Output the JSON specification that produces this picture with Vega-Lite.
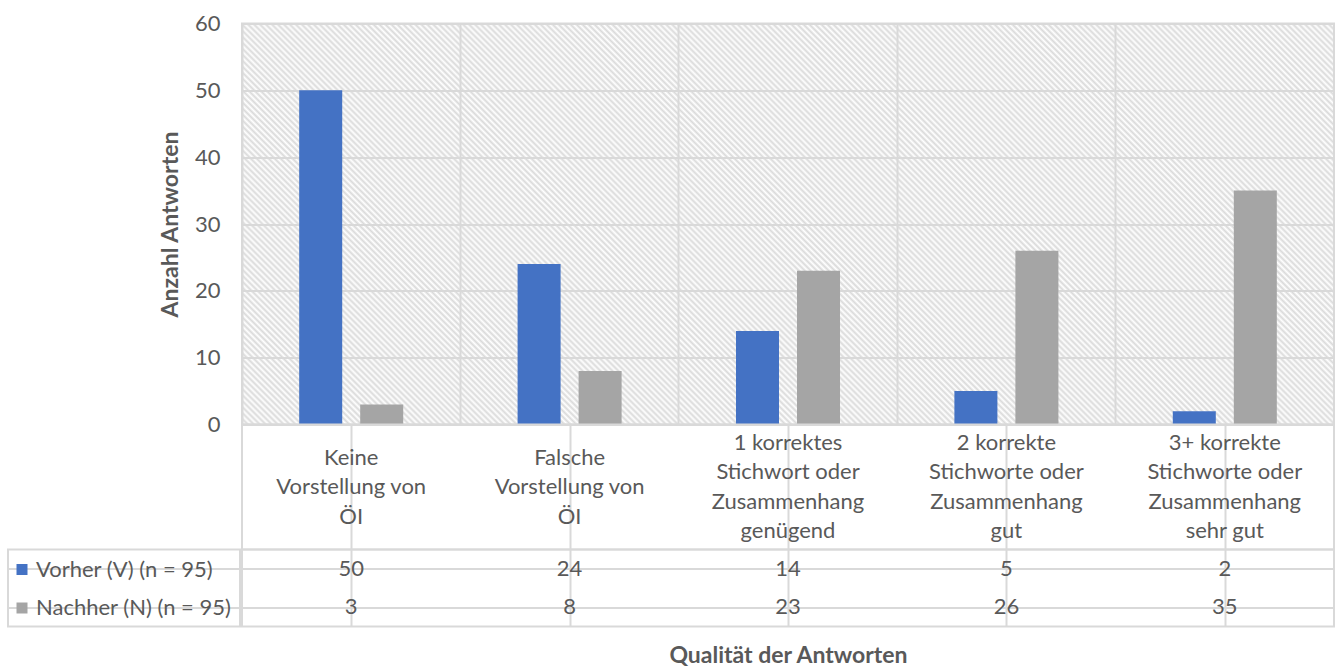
{
  "$schema": "https://vega.github.io/schema/vega-lite/v6.json",
  "background": "white",
  "padding": {"left": 7, "top": 11.5, "right": 0, "bottom": 0},
  "data": {"values": [
    {"Kategorie": "Keine\nVorstellung von\nÖI", "Zeitpunkt": "Vorher (V) (n = 95)", "Anzahl": 50},
    {"Kategorie": "Keine\nVorstellung von\nÖI", "Zeitpunkt": "Nachher (N) (n = 95)", "Anzahl": 3},
    {"Kategorie": "Falsche\nVorstellung von\nÖI", "Zeitpunkt": "Vorher (V) (n = 95)", "Anzahl": 24},
    {"Kategorie": "Falsche\nVorstellung von\nÖI", "Zeitpunkt": "Nachher (N) (n = 95)", "Anzahl": 8},
    {"Kategorie": "1 korrektes\nStichwort oder\nZusammenhang\ngenügend", "Zeitpunkt": "Vorher (V) (n = 95)", "Anzahl": 14},
    {"Kategorie": "1 korrektes\nStichwort oder\nZusammenhang\ngenügend", "Zeitpunkt": "Nachher (N) (n = 95)", "Anzahl": 23},
    {"Kategorie": "2 korrekte\nStichworte oder\nZusammenhang\ngut", "Zeitpunkt": "Vorher (V) (n = 95)", "Anzahl": 5},
    {"Kategorie": "2 korrekte\nStichworte oder\nZusammenhang\ngut", "Zeitpunkt": "Nachher (N) (n = 95)", "Anzahl": 26},
    {"Kategorie": "3+ korrekte\nStichworte oder\nZusammenhang\nsehr gut", "Zeitpunkt": "Vorher (V) (n = 95)", "Anzahl": 2},
    {"Kategorie": "3+ korrekte\nStichworte oder\nZusammenhang\nsehr gut", "Zeitpunkt": "Nachher (N) (n = 95)", "Anzahl": 35}
  ]},
  "config": {
    "font": "Lato",
    "view": {"stroke": "#d9d9d9", "strokeWidth": 2},
    "axis": {"labelFont": "Lato", "titleFont": "Lato", "labelColor": "#595959", "titleColor": "#595959", "gridColor": "#d9d9d9", "gridWidth": 2, "gridOpacity": 1, "labelFontSize": 22, "titleFontSize": 23, "titleFontWeight": "bold"},
    "text": {"font": "Lato", "fontSize": 22, "color": "#595959"}
  },
  "spacing": -83,
  "resolve": {"scale": {"color": "independent", "x": "independent", "y": "independent"}},
  "hconcat": [
    {
      "spacing": 0,
      "bounds": "flush",
      "resolve": {"scale": {"color": "independent", "y": "independent"}},
      "vconcat": [
        {"width": 232, "height": 401, "view": {"stroke": null}, "mark": {"type": "text"}, "encoding": {"text": {"value": ""}}},
        {"width": 232, "height": 125, "view": {"stroke": null}, "mark": {"type": "text"}, "encoding": {"text": {"value": ""}}},
        {
          "width": 232, "height": 77,
          "mark": {"type": "text"},
          "encoding": {
            "y": {"field": "Zeitpunkt", "type": "nominal", "sort": null, "scale": {"paddingInner": 0, "paddingOuter": 0}, "axis": {"labels": false, "ticks": false, "domain": false, "grid": true, "bandPosition": 0, "title": null}},
            "color": {"field": "Zeitpunkt", "type": "nominal", "sort": null,
              "scale": {"domain": ["Vorher (V) (n = 95)", "Nachher (N) (n = 95)"], "range": ["#4472c4", "#a5a5a5"]},
              "legend": {"orient": "none", "legendX": 3, "legendY": 9, "padding": 0, "title": null, "symbolType": "square", "symbolSize": 121, "symbolStrokeWidth": 0, "labelFont": "Lato", "labelFontSize": 22, "labelColor": "#595959", "labelOffset": 3, "labelLimit": 400, "rowPadding": 16.5}},
            "text": {"value": ""}
          }
        }
      ]
    },
    {
      "spacing": 0,
      "bounds": "flush",
      "resolve": {"scale": {"color": "independent", "y": "independent"}},
      "vconcat": [
        {
          "width": 1092, "height": 401,
          "view": {"fill": {"gradient": "linear", "x1": 0, "y1": 1, "x2": 1.2048, "y2": 0.5576, "stops": [
{"offset":0.000,"color":"#dadada"},{"offset":0.002,"color":"#fff"},{"offset":0.004,"color":"#dadada"},{"offset":0.006,"color":"#fff"},{"offset":0.008,"color":"#dadada"},{"offset":0.010,"color":"#fff"},{"offset":0.012,"color":"#dadada"},{"offset":0.014,"color":"#fff"},{"offset":0.016,"color":"#dadada"},{"offset":0.018,"color":"#fff"},
{"offset":0.020,"color":"#dadada"},{"offset":0.022,"color":"#fff"},{"offset":0.024,"color":"#dadada"},{"offset":0.026,"color":"#fff"},{"offset":0.028,"color":"#dadada"},{"offset":0.030,"color":"#fff"},{"offset":0.032,"color":"#dadada"},{"offset":0.034,"color":"#fff"},{"offset":0.036,"color":"#dadada"},{"offset":0.038,"color":"#fff"},
{"offset":0.040,"color":"#dadada"},{"offset":0.042,"color":"#fff"},{"offset":0.044,"color":"#dadada"},{"offset":0.046,"color":"#fff"},{"offset":0.048,"color":"#dadada"},{"offset":0.050,"color":"#fff"},{"offset":0.052,"color":"#dadada"},{"offset":0.054,"color":"#fff"},{"offset":0.056,"color":"#dadada"},{"offset":0.058,"color":"#fff"},
{"offset":0.060,"color":"#dadada"},{"offset":0.062,"color":"#fff"},{"offset":0.064,"color":"#dadada"},{"offset":0.066,"color":"#fff"},{"offset":0.068,"color":"#dadada"},{"offset":0.070,"color":"#fff"},{"offset":0.072,"color":"#dadada"},{"offset":0.074,"color":"#fff"},{"offset":0.076,"color":"#dadada"},{"offset":0.078,"color":"#fff"},
{"offset":0.080,"color":"#dadada"},{"offset":0.082,"color":"#fff"},{"offset":0.084,"color":"#dadada"},{"offset":0.086,"color":"#fff"},{"offset":0.088,"color":"#dadada"},{"offset":0.090,"color":"#fff"},{"offset":0.092,"color":"#dadada"},{"offset":0.094,"color":"#fff"},{"offset":0.096,"color":"#dadada"},{"offset":0.098,"color":"#fff"},
{"offset":0.100,"color":"#dadada"},{"offset":0.102,"color":"#fff"},{"offset":0.104,"color":"#dadada"},{"offset":0.106,"color":"#fff"},{"offset":0.108,"color":"#dadada"},{"offset":0.110,"color":"#fff"},{"offset":0.112,"color":"#dadada"},{"offset":0.114,"color":"#fff"},{"offset":0.116,"color":"#dadada"},{"offset":0.118,"color":"#fff"},
{"offset":0.120,"color":"#dadada"},{"offset":0.122,"color":"#fff"},{"offset":0.124,"color":"#dadada"},{"offset":0.126,"color":"#fff"},{"offset":0.128,"color":"#dadada"},{"offset":0.130,"color":"#fff"},{"offset":0.132,"color":"#dadada"},{"offset":0.134,"color":"#fff"},{"offset":0.136,"color":"#dadada"},{"offset":0.138,"color":"#fff"},
{"offset":0.140,"color":"#dadada"},{"offset":0.142,"color":"#fff"},{"offset":0.144,"color":"#dadada"},{"offset":0.146,"color":"#fff"},{"offset":0.148,"color":"#dadada"},{"offset":0.150,"color":"#fff"},{"offset":0.152,"color":"#dadada"},{"offset":0.154,"color":"#fff"},{"offset":0.156,"color":"#dadada"},{"offset":0.158,"color":"#fff"},
{"offset":0.160,"color":"#dadada"},{"offset":0.162,"color":"#fff"},{"offset":0.164,"color":"#dadada"},{"offset":0.166,"color":"#fff"},{"offset":0.168,"color":"#dadada"},{"offset":0.170,"color":"#fff"},{"offset":0.172,"color":"#dadada"},{"offset":0.174,"color":"#fff"},{"offset":0.176,"color":"#dadada"},{"offset":0.178,"color":"#fff"},
{"offset":0.180,"color":"#dadada"},{"offset":0.182,"color":"#fff"},{"offset":0.184,"color":"#dadada"},{"offset":0.186,"color":"#fff"},{"offset":0.188,"color":"#dadada"},{"offset":0.190,"color":"#fff"},{"offset":0.192,"color":"#dadada"},{"offset":0.194,"color":"#fff"},{"offset":0.196,"color":"#dadada"},{"offset":0.198,"color":"#fff"},
{"offset":0.200,"color":"#dadada"},{"offset":0.202,"color":"#fff"},{"offset":0.204,"color":"#dadada"},{"offset":0.206,"color":"#fff"},{"offset":0.208,"color":"#dadada"},{"offset":0.210,"color":"#fff"},{"offset":0.212,"color":"#dadada"},{"offset":0.214,"color":"#fff"},{"offset":0.216,"color":"#dadada"},{"offset":0.218,"color":"#fff"},
{"offset":0.220,"color":"#dadada"},{"offset":0.222,"color":"#fff"},{"offset":0.224,"color":"#dadada"},{"offset":0.226,"color":"#fff"},{"offset":0.228,"color":"#dadada"},{"offset":0.230,"color":"#fff"},{"offset":0.232,"color":"#dadada"},{"offset":0.234,"color":"#fff"},{"offset":0.236,"color":"#dadada"},{"offset":0.238,"color":"#fff"},
{"offset":0.240,"color":"#dadada"},{"offset":0.242,"color":"#fff"},{"offset":0.244,"color":"#dadada"},{"offset":0.246,"color":"#fff"},{"offset":0.248,"color":"#dadada"},{"offset":0.250,"color":"#fff"},{"offset":0.252,"color":"#dadada"},{"offset":0.254,"color":"#fff"},{"offset":0.256,"color":"#dadada"},{"offset":0.258,"color":"#fff"},
{"offset":0.260,"color":"#dadada"},{"offset":0.262,"color":"#fff"},{"offset":0.264,"color":"#dadada"},{"offset":0.266,"color":"#fff"},{"offset":0.268,"color":"#dadada"},{"offset":0.270,"color":"#fff"},{"offset":0.272,"color":"#dadada"},{"offset":0.274,"color":"#fff"},{"offset":0.276,"color":"#dadada"},{"offset":0.278,"color":"#fff"},
{"offset":0.280,"color":"#dadada"},{"offset":0.282,"color":"#fff"},{"offset":0.284,"color":"#dadada"},{"offset":0.286,"color":"#fff"},{"offset":0.288,"color":"#dadada"},{"offset":0.290,"color":"#fff"},{"offset":0.292,"color":"#dadada"},{"offset":0.294,"color":"#fff"},{"offset":0.296,"color":"#dadada"},{"offset":0.298,"color":"#fff"},
{"offset":0.300,"color":"#dadada"},{"offset":0.302,"color":"#fff"},{"offset":0.304,"color":"#dadada"},{"offset":0.306,"color":"#fff"},{"offset":0.308,"color":"#dadada"},{"offset":0.310,"color":"#fff"},{"offset":0.312,"color":"#dadada"},{"offset":0.314,"color":"#fff"},{"offset":0.316,"color":"#dadada"},{"offset":0.318,"color":"#fff"},
{"offset":0.320,"color":"#dadada"},{"offset":0.322,"color":"#fff"},{"offset":0.324,"color":"#dadada"},{"offset":0.326,"color":"#fff"},{"offset":0.328,"color":"#dadada"},{"offset":0.330,"color":"#fff"},{"offset":0.332,"color":"#dadada"},{"offset":0.334,"color":"#fff"},{"offset":0.336,"color":"#dadada"},{"offset":0.338,"color":"#fff"},
{"offset":0.340,"color":"#dadada"},{"offset":0.342,"color":"#fff"},{"offset":0.344,"color":"#dadada"},{"offset":0.346,"color":"#fff"},{"offset":0.348,"color":"#dadada"},{"offset":0.350,"color":"#fff"},{"offset":0.352,"color":"#dadada"},{"offset":0.354,"color":"#fff"},{"offset":0.356,"color":"#dadada"},{"offset":0.358,"color":"#fff"},
{"offset":0.360,"color":"#dadada"},{"offset":0.362,"color":"#fff"},{"offset":0.364,"color":"#dadada"},{"offset":0.366,"color":"#fff"},{"offset":0.368,"color":"#dadada"},{"offset":0.370,"color":"#fff"},{"offset":0.372,"color":"#dadada"},{"offset":0.374,"color":"#fff"},{"offset":0.376,"color":"#dadada"},{"offset":0.378,"color":"#fff"},
{"offset":0.380,"color":"#dadada"},{"offset":0.382,"color":"#fff"},{"offset":0.384,"color":"#dadada"},{"offset":0.386,"color":"#fff"},{"offset":0.388,"color":"#dadada"},{"offset":0.390,"color":"#fff"},{"offset":0.392,"color":"#dadada"},{"offset":0.394,"color":"#fff"},{"offset":0.396,"color":"#dadada"},{"offset":0.398,"color":"#fff"},
{"offset":0.400,"color":"#dadada"},{"offset":0.402,"color":"#fff"},{"offset":0.404,"color":"#dadada"},{"offset":0.406,"color":"#fff"},{"offset":0.408,"color":"#dadada"},{"offset":0.410,"color":"#fff"},{"offset":0.412,"color":"#dadada"},{"offset":0.414,"color":"#fff"},{"offset":0.416,"color":"#dadada"},{"offset":0.418,"color":"#fff"},
{"offset":0.420,"color":"#dadada"},{"offset":0.422,"color":"#fff"},{"offset":0.424,"color":"#dadada"},{"offset":0.426,"color":"#fff"},{"offset":0.428,"color":"#dadada"},{"offset":0.430,"color":"#fff"},{"offset":0.432,"color":"#dadada"},{"offset":0.434,"color":"#fff"},{"offset":0.436,"color":"#dadada"},{"offset":0.438,"color":"#fff"},
{"offset":0.440,"color":"#dadada"},{"offset":0.442,"color":"#fff"},{"offset":0.444,"color":"#dadada"},{"offset":0.446,"color":"#fff"},{"offset":0.448,"color":"#dadada"},{"offset":0.450,"color":"#fff"},{"offset":0.452,"color":"#dadada"},{"offset":0.454,"color":"#fff"},{"offset":0.456,"color":"#dadada"},{"offset":0.458,"color":"#fff"},
{"offset":0.460,"color":"#dadada"},{"offset":0.462,"color":"#fff"},{"offset":0.464,"color":"#dadada"},{"offset":0.466,"color":"#fff"},{"offset":0.468,"color":"#dadada"},{"offset":0.470,"color":"#fff"},{"offset":0.472,"color":"#dadada"},{"offset":0.474,"color":"#fff"},{"offset":0.476,"color":"#dadada"},{"offset":0.478,"color":"#fff"},
{"offset":0.480,"color":"#dadada"},{"offset":0.482,"color":"#fff"},{"offset":0.484,"color":"#dadada"},{"offset":0.486,"color":"#fff"},{"offset":0.488,"color":"#dadada"},{"offset":0.490,"color":"#fff"},{"offset":0.492,"color":"#dadada"},{"offset":0.494,"color":"#fff"},{"offset":0.496,"color":"#dadada"},{"offset":0.498,"color":"#fff"},
{"offset":0.500,"color":"#dadada"},{"offset":0.502,"color":"#fff"},{"offset":0.504,"color":"#dadada"},{"offset":0.506,"color":"#fff"},{"offset":0.508,"color":"#dadada"},{"offset":0.510,"color":"#fff"},{"offset":0.512,"color":"#dadada"},{"offset":0.514,"color":"#fff"},{"offset":0.516,"color":"#dadada"},{"offset":0.518,"color":"#fff"},
{"offset":0.520,"color":"#dadada"},{"offset":0.522,"color":"#fff"},{"offset":0.524,"color":"#dadada"},{"offset":0.526,"color":"#fff"},{"offset":0.528,"color":"#dadada"},{"offset":0.530,"color":"#fff"},{"offset":0.532,"color":"#dadada"},{"offset":0.534,"color":"#fff"},{"offset":0.536,"color":"#dadada"},{"offset":0.538,"color":"#fff"},
{"offset":0.540,"color":"#dadada"},{"offset":0.542,"color":"#fff"},{"offset":0.544,"color":"#dadada"},{"offset":0.546,"color":"#fff"},{"offset":0.548,"color":"#dadada"},{"offset":0.550,"color":"#fff"},{"offset":0.552,"color":"#dadada"},{"offset":0.554,"color":"#fff"},{"offset":0.556,"color":"#dadada"},{"offset":0.558,"color":"#fff"},
{"offset":0.560,"color":"#dadada"},{"offset":0.562,"color":"#fff"},{"offset":0.564,"color":"#dadada"},{"offset":0.566,"color":"#fff"},{"offset":0.568,"color":"#dadada"},{"offset":0.570,"color":"#fff"},{"offset":0.572,"color":"#dadada"},{"offset":0.574,"color":"#fff"},{"offset":0.576,"color":"#dadada"},{"offset":0.578,"color":"#fff"},
{"offset":0.580,"color":"#dadada"},{"offset":0.582,"color":"#fff"},{"offset":0.584,"color":"#dadada"},{"offset":0.586,"color":"#fff"},{"offset":0.588,"color":"#dadada"},{"offset":0.590,"color":"#fff"},{"offset":0.592,"color":"#dadada"},{"offset":0.594,"color":"#fff"},{"offset":0.596,"color":"#dadada"},{"offset":0.598,"color":"#fff"},
{"offset":0.600,"color":"#dadada"},{"offset":0.602,"color":"#fff"},{"offset":0.604,"color":"#dadada"},{"offset":0.606,"color":"#fff"},{"offset":0.608,"color":"#dadada"},{"offset":0.610,"color":"#fff"},{"offset":0.612,"color":"#dadada"},{"offset":0.614,"color":"#fff"},{"offset":0.616,"color":"#dadada"},{"offset":0.618,"color":"#fff"},
{"offset":0.620,"color":"#dadada"},{"offset":0.622,"color":"#fff"},{"offset":0.624,"color":"#dadada"},{"offset":0.626,"color":"#fff"},{"offset":0.628,"color":"#dadada"},{"offset":0.630,"color":"#fff"},{"offset":0.632,"color":"#dadada"},{"offset":0.634,"color":"#fff"},{"offset":0.636,"color":"#dadada"},{"offset":0.638,"color":"#fff"},
{"offset":0.640,"color":"#dadada"},{"offset":0.642,"color":"#fff"},{"offset":0.644,"color":"#dadada"},{"offset":0.646,"color":"#fff"},{"offset":0.648,"color":"#dadada"},{"offset":0.650,"color":"#fff"},{"offset":0.652,"color":"#dadada"},{"offset":0.654,"color":"#fff"},{"offset":0.656,"color":"#dadada"},{"offset":0.658,"color":"#fff"},
{"offset":0.660,"color":"#dadada"},{"offset":0.662,"color":"#fff"},{"offset":0.664,"color":"#dadada"},{"offset":0.666,"color":"#fff"},{"offset":0.668,"color":"#dadada"},{"offset":0.670,"color":"#fff"},{"offset":0.672,"color":"#dadada"},{"offset":0.674,"color":"#fff"},{"offset":0.676,"color":"#dadada"},{"offset":0.678,"color":"#fff"},
{"offset":0.680,"color":"#dadada"},{"offset":0.682,"color":"#fff"},{"offset":0.684,"color":"#dadada"},{"offset":0.686,"color":"#fff"},{"offset":0.688,"color":"#dadada"},{"offset":0.690,"color":"#fff"},{"offset":0.692,"color":"#dadada"},{"offset":0.694,"color":"#fff"},{"offset":0.696,"color":"#dadada"},{"offset":0.698,"color":"#fff"},
{"offset":0.700,"color":"#dadada"},{"offset":0.702,"color":"#fff"},{"offset":0.704,"color":"#dadada"},{"offset":0.706,"color":"#fff"},{"offset":0.708,"color":"#dadada"},{"offset":0.710,"color":"#fff"},{"offset":0.712,"color":"#dadada"},{"offset":0.714,"color":"#fff"},{"offset":0.716,"color":"#dadada"},{"offset":0.718,"color":"#fff"},
{"offset":0.720,"color":"#dadada"},{"offset":0.722,"color":"#fff"},{"offset":0.724,"color":"#dadada"},{"offset":0.726,"color":"#fff"},{"offset":0.728,"color":"#dadada"},{"offset":0.730,"color":"#fff"},{"offset":0.732,"color":"#dadada"},{"offset":0.734,"color":"#fff"},{"offset":0.736,"color":"#dadada"},{"offset":0.738,"color":"#fff"},
{"offset":0.740,"color":"#dadada"},{"offset":0.742,"color":"#fff"},{"offset":0.744,"color":"#dadada"},{"offset":0.746,"color":"#fff"},{"offset":0.748,"color":"#dadada"},{"offset":0.750,"color":"#fff"},{"offset":0.752,"color":"#dadada"},{"offset":0.754,"color":"#fff"},{"offset":0.756,"color":"#dadada"},{"offset":0.758,"color":"#fff"},
{"offset":0.760,"color":"#dadada"},{"offset":0.762,"color":"#fff"},{"offset":0.764,"color":"#dadada"},{"offset":0.766,"color":"#fff"},{"offset":0.768,"color":"#dadada"},{"offset":0.770,"color":"#fff"},{"offset":0.772,"color":"#dadada"},{"offset":0.774,"color":"#fff"},{"offset":0.776,"color":"#dadada"},{"offset":0.778,"color":"#fff"},
{"offset":0.780,"color":"#dadada"},{"offset":0.782,"color":"#fff"},{"offset":0.784,"color":"#dadada"},{"offset":0.786,"color":"#fff"},{"offset":0.788,"color":"#dadada"},{"offset":0.790,"color":"#fff"},{"offset":0.792,"color":"#dadada"},{"offset":0.794,"color":"#fff"},{"offset":0.796,"color":"#dadada"},{"offset":0.798,"color":"#fff"},
{"offset":0.800,"color":"#dadada"},{"offset":0.802,"color":"#fff"},{"offset":0.804,"color":"#dadada"},{"offset":0.806,"color":"#fff"},{"offset":0.808,"color":"#dadada"},{"offset":0.810,"color":"#fff"},{"offset":0.812,"color":"#dadada"},{"offset":0.814,"color":"#fff"},{"offset":0.816,"color":"#dadada"},{"offset":0.818,"color":"#fff"},
{"offset":0.820,"color":"#dadada"},{"offset":0.822,"color":"#fff"},{"offset":0.824,"color":"#dadada"},{"offset":0.826,"color":"#fff"},{"offset":0.828,"color":"#dadada"},{"offset":0.830,"color":"#fff"},{"offset":0.832,"color":"#dadada"},{"offset":0.834,"color":"#fff"},{"offset":0.836,"color":"#dadada"},{"offset":0.838,"color":"#fff"},
{"offset":0.840,"color":"#dadada"},{"offset":0.842,"color":"#fff"},{"offset":0.844,"color":"#dadada"},{"offset":0.846,"color":"#fff"},{"offset":0.848,"color":"#dadada"},{"offset":0.850,"color":"#fff"},{"offset":0.852,"color":"#dadada"},{"offset":0.854,"color":"#fff"},{"offset":0.856,"color":"#dadada"},{"offset":0.858,"color":"#fff"},
{"offset":0.860,"color":"#dadada"},{"offset":0.862,"color":"#fff"},{"offset":0.864,"color":"#dadada"},{"offset":0.866,"color":"#fff"},{"offset":0.868,"color":"#dadada"},{"offset":0.870,"color":"#fff"},{"offset":0.872,"color":"#dadada"},{"offset":0.874,"color":"#fff"},{"offset":0.876,"color":"#dadada"},{"offset":0.878,"color":"#fff"},
{"offset":0.880,"color":"#dadada"},{"offset":0.882,"color":"#fff"},{"offset":0.884,"color":"#dadada"},{"offset":0.886,"color":"#fff"},{"offset":0.888,"color":"#dadada"},{"offset":0.890,"color":"#fff"},{"offset":0.892,"color":"#dadada"},{"offset":0.894,"color":"#fff"},{"offset":0.896,"color":"#dadada"},{"offset":0.898,"color":"#fff"},
{"offset":0.900,"color":"#dadada"},{"offset":0.902,"color":"#fff"},{"offset":0.904,"color":"#dadada"},{"offset":0.906,"color":"#fff"},{"offset":0.908,"color":"#dadada"},{"offset":0.910,"color":"#fff"},{"offset":0.912,"color":"#dadada"},{"offset":0.914,"color":"#fff"},{"offset":0.916,"color":"#dadada"},{"offset":0.918,"color":"#fff"},
{"offset":0.920,"color":"#dadada"},{"offset":0.922,"color":"#fff"},{"offset":0.924,"color":"#dadada"},{"offset":0.926,"color":"#fff"},{"offset":0.928,"color":"#dadada"},{"offset":0.930,"color":"#fff"},{"offset":0.932,"color":"#dadada"},{"offset":0.934,"color":"#fff"},{"offset":0.936,"color":"#dadada"},{"offset":0.938,"color":"#fff"},
{"offset":0.940,"color":"#dadada"},{"offset":0.942,"color":"#fff"},{"offset":0.944,"color":"#dadada"},{"offset":0.946,"color":"#fff"},{"offset":0.948,"color":"#dadada"},{"offset":0.950,"color":"#fff"},{"offset":0.952,"color":"#dadada"},{"offset":0.954,"color":"#fff"},{"offset":0.956,"color":"#dadada"},{"offset":0.958,"color":"#fff"},
{"offset":0.960,"color":"#dadada"},{"offset":0.962,"color":"#fff"},{"offset":0.964,"color":"#dadada"},{"offset":0.966,"color":"#fff"},{"offset":0.968,"color":"#dadada"},{"offset":0.970,"color":"#fff"},{"offset":0.972,"color":"#dadada"},{"offset":0.974,"color":"#fff"},{"offset":0.976,"color":"#dadada"},{"offset":0.978,"color":"#fff"},
{"offset":0.980,"color":"#dadada"},{"offset":0.982,"color":"#fff"},{"offset":0.984,"color":"#dadada"},{"offset":0.986,"color":"#fff"},{"offset":0.988,"color":"#dadada"},{"offset":0.990,"color":"#fff"},{"offset":0.992,"color":"#dadada"},{"offset":0.994,"color":"#fff"},{"offset":0.996,"color":"#dadada"},{"offset":0.998,"color":"#fff"},
{"offset":1.000,"color":"#dadada"}
          ]}},
          "mark": {"type": "bar"},
          "encoding": {
            "x": {"field": "Kategorie", "type": "nominal", "sort": null,
              "scale": {"paddingInner": 0, "paddingOuter": 0, "domain": ["Keine\nVorstellung von\nÖI", "Falsche\nVorstellung von\nÖI", "1 korrektes\nStichwort oder\nZusammenhang\ngenügend", "2 korrekte\nStichworte oder\nZusammenhang\ngut", "3+ korrekte\nStichworte oder\nZusammenhang\nsehr gut"]},
              "axis": {"labels": false, "ticks": false, "domain": false, "grid": true, "bandPosition": 0, "title": null}},
            "xOffset": {"field": "Zeitpunkt", "type": "nominal", "sort": null, "scale": {"paddingInner": 0.295, "paddingOuter": 0.9375}},
            "y": {"field": "Anzahl", "type": "quantitative", "scale": {"domain": [0, 60]},
              "axis": {"values": [0, 10, 20, 30, 40, 50, 60], "domain": false, "ticks": false, "tickSize": 0, "labelPadding": 22, "title": "Anzahl Antworten", "titlePadding": 12}},
            "color": {"field": "Zeitpunkt", "type": "nominal", "sort": null,
              "scale": {"domain": ["Vorher (V) (n = 95)", "Nachher (N) (n = 95)"], "range": ["#4472c4", "#a5a5a5"]}, "legend": null}
          }
        },
        {
          "width": 1092, "height": 125,
          "encoding": {
            "x": {"field": "Kategorie", "type": "nominal", "sort": null,
              "scale": {"paddingInner": 0, "paddingOuter": 0, "domain": ["Keine\nVorstellung von\nÖI", "Falsche\nVorstellung von\nÖI", "1 korrektes\nStichwort oder\nZusammenhang\ngenügend", "2 korrekte\nStichworte oder\nZusammenhang\ngut", "3+ korrekte\nStichworte oder\nZusammenhang\nsehr gut"]},
              "axis": {"labels": false, "ticks": false, "domain": false, "grid": true, "bandPosition": 0, "title": null}},
            "text": {"field": "Kategorie"}
          },
          "layer": [
            {
              "transform": [{"filter": "datum.Zeitpunkt === 'Vorher (V) (n = 95)' && length(split(datum.Kategorie, '\\n')) === 3"}],
              "mark": {"type": "text", "lineBreak": "\n", "lineHeight": 29.5, "dy": -29.5}
            },
            {
              "transform": [{"filter": "datum.Zeitpunkt === 'Vorher (V) (n = 95)' && length(split(datum.Kategorie, '\\n')) === 4"}],
              "mark": {"type": "text", "lineBreak": "\n", "lineHeight": 29.5, "dy": -44.25}
            }
          ]
        },
        {
          "width": 1092, "height": 77,
          "mark": {"type": "text"},
          "encoding": {
            "x": {"field": "Kategorie", "type": "nominal", "sort": null,
              "scale": {"paddingInner": 0, "paddingOuter": 0, "domain": ["Keine\nVorstellung von\nÖI", "Falsche\nVorstellung von\nÖI", "1 korrektes\nStichwort oder\nZusammenhang\ngenügend", "2 korrekte\nStichworte oder\nZusammenhang\ngut", "3+ korrekte\nStichworte oder\nZusammenhang\nsehr gut"]},
              "axis": {"labels": false, "ticks": false, "domain": false, "grid": true, "bandPosition": 0, "title": "Qualität der Antworten", "titlePadding": 18}},
            "y": {"field": "Zeitpunkt", "type": "nominal", "sort": null, "scale": {"paddingInner": 0, "paddingOuter": 0},
              "axis": {"labels": false, "ticks": false, "domain": false, "grid": true, "bandPosition": 0, "title": null}},
            "text": {"field": "Anzahl", "type": "quantitative"}
          }
        }
      ]
    }
  ]
}
